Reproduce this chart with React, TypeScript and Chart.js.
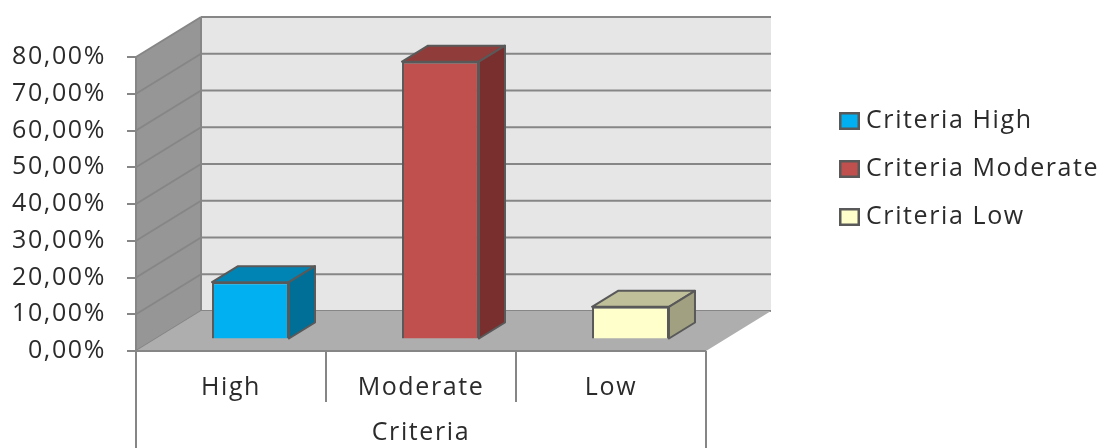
import React, { useEffect, useRef } from "react";
import { Chart, registerables } from "chart.js";

Chart.register(...registerables);

const categories = ["High", "Moderate", "Low"];
const seriesNames = ["Criteria High", "Criteria Moderate", "Criteria Low"];
const highValues = [15.6, null, null];
const moderateValues = [null, 75.6, null];
const lowValues = [null, null, 8.9];
const yTicks = [0, 10, 20, 30, 40, 50, 60, 70, 80];
const axisTitle = "Criteria";

const frontColors = ["#00b0f0", "#c0504d", "#ffffcc"];
const topColors = ["#0084b4", "#903c3a", "#bfbf99"];
const sideColors = ["#006f97", "#792f2e", "#a1a181"];

const FONT = "'Open Sans'";
const TEXT = "#2b2b2b";
const LINE = "#868686";
const EDGE = "#595959";
const DX = 65, DY = 40;
const BAR_DX = 19.5, BAR_DY = 11.5;
const EX = 26, EY = 16;

function swatch(color: string) {
  const c = document.createElement("canvas");
  c.width = 21;
  c.height = 18;
  const g = c.getContext("2d")!;
  g.fillStyle = color;
  g.strokeStyle = EDGE;
  g.lineWidth = 2.5;
  g.fillRect(1, 1, 19, 16);
  g.strokeRect(1.25, 1.25, 18.5, 15.5);
  return c;
}

function poly(ctx: CanvasRenderingContext2D, pts: number[][], fill: string, stroke?: string, lw = 2) {
  ctx.beginPath();
  pts.forEach((p, i) => (i ? ctx.lineTo(p[0], p[1]) : ctx.moveTo(p[0], p[1])));
  ctx.closePath();
  ctx.fillStyle = fill;
  ctx.fill();
  if (stroke) {
    ctx.strokeStyle = stroke;
    ctx.lineWidth = lw;
    ctx.lineJoin = "round";
    ctx.stroke();
  }
}

function line(ctx: CanvasRenderingContext2D, x1: number, y1: number, x2: number, y2: number) {
  ctx.beginPath();
  ctx.moveTo(x1, y1);
  ctx.lineTo(x2, y2);
  ctx.stroke();
}

const scene = {
  id: "scene3d",
  afterLayout(chart: any) {
    const l = chart.legend;
    if (!l) return;
    const w = l.width, h = l.height;
    l.left = 822.5;
    l.top = 85.5;
    l.right = 1099;
    l.bottom = 85.5 + h + 60;
  },
  beforeDraw(chart: any) {
    const { ctx, chartArea: a, scales } = chart;
    ctx.letterSpacing = "1.6px";
    const y = scales.y;
    const x = scales.x;
    ctx.save();
    poly(ctx, [[a.left, a.top], [a.left + DX, a.top - DY], [a.left + DX, a.bottom - DY], [a.left, a.bottom]], "#969696");
    poly(ctx, [[a.left + DX, a.top - DY], [a.right + DX, a.top - DY], [a.right + DX, a.bottom - DY], [a.left + DX, a.bottom - DY]], "#e6e6e6");
    ctx.strokeStyle = LINE;
    ctx.lineWidth = 2;
    yTicks.forEach((t) => {
      const py = y.getPixelForValue(t);
      line(ctx, a.left, py, a.left + DX, py - DY);
      line(ctx, a.left + DX, py - DY, a.right + DX, py - DY);
    });
    line(ctx, a.left + DX, a.top - DY, a.left + DX, a.bottom - DY);
    poly(ctx, [[a.left, a.bottom], [a.right, a.bottom], [a.right + DX, a.bottom - DY], [a.left + DX, a.bottom - DY]], "#aeaeae");
    ctx.strokeStyle = LINE;
    ctx.lineWidth = 2;
    line(ctx, a.left, a.bottom, a.right, a.bottom);
    line(ctx, a.left, a.top, a.left, 448);
    line(ctx, a.right, a.bottom, a.right, 448);
    const step = (x.getPixelForValue(1) - x.getPixelForValue(0)) / 2;
    [0, 1].forEach((i) => {
      const px = x.getPixelForValue(i) + step;
      line(ctx, px, a.bottom, px, 402);
    });
    ctx.restore();
  },
  beforeDatasetsDraw(chart: any) {
    const { ctx } = chart;
    ctx.save();
    ctx.translate(BAR_DX, BAR_DY * -1);
    chart.data.datasets.forEach((ds: any, i: number) => {
      chart.getDatasetMeta(i).data.forEach((bar: any, j: number) => {
        if (ds.data[j] == null) return;
        const r = bar.x + bar.width / 2, l = bar.x - bar.width / 2;
        poly(ctx, [[l, bar.y], [r, bar.y], [r + EX, bar.y - EY], [l + EX, bar.y - EY]], topColors[i], EDGE);
        poly(ctx, [[r, bar.y], [r + EX, bar.y - EY], [r + EX, bar.base - EY], [r, bar.base]], sideColors[i], EDGE);
      });
    });
  },
  afterDatasetsDraw(chart: any) {
    chart.ctx.restore();
  },
};

export default function App() {
  const ref = useRef<HTMLCanvasElement>(null);
  useEffect(() => {
    const series = [highValues, moderateValues, lowValues];
    const chart = new Chart(ref.current!, {
      type: "bar",
      data: {
        labels: categories,
        datasets: series.map((data, i) => ({
          label: seriesNames[i],
          data,
          backgroundColor: frontColors[i],
          borderColor: EDGE,
          borderWidth: 2,
          barPercentage: 0.405,
          categoryPercentage: 1,
        })),
      },
      options: {
        responsive: false,
        animation: false,
        layout: { padding: { left: 0, top: 57, right: 393, bottom: 0 } },
        scales: {
          x: {
            stacked: true,
            grid: { display: false },
            border: { display: false },
            ticks: { color: TEXT, font: { family: FONT, size: 25 }, padding: 14, maxRotation: 0 },
            title: { display: true, text: axisTitle, color: TEXT, font: { family: FONT, size: 25 }, padding: { top: 20, bottom: 0 } },
            afterFit: (s: any) => { s.height = 97; },
          },
          y: {
            stacked: false,
            min: 0,
            max: 80,
            afterBuildTicks: (s: any) => { s.ticks = yTicks.map((value) => ({ value })); },
            grid: { drawOnChartArea: false, tickLength: 9, color: LINE, lineWidth: 2 },
            border: { display: false },
            ticks: {
              color: TEXT,
              font: { family: FONT, size: 25 },
              padding: 21,
              callback: (v: any) => Number(v).toFixed(2).replace(".", ",") + "%",
            },
            afterFit: (s: any) => { s.width = 136; },
          },
        },
        plugins: {
          tooltip: { enabled: false },
          legend: {
            position: "chartArea",
            align: "start",
            labels: {
              color: TEXT,
              font: { family: FONT, size: 25 },
              usePointStyle: true,
              pointStyleWidth: 8,
              boxHeight: 16,
              padding: 23,
              generateLabels: (c: any) =>
                Chart.defaults.plugins.legend.labels.generateLabels(c).map((item: any, i: number) => ({
                  ...item,
                  pointStyle: swatch(frontColors[i]),
                })),
            },
          },
        },
      } as any,
      plugins: [scene],
    });
    return () => chart.destroy();
  }, []);
  return (
    <div style={{ position: "fixed", left: 0, top: 0, width: 1099, height: 448, background: "#fff" }}>
      <canvas ref={ref} width={1099} height={448} style={{ display: "block" }} />
    </div>
  );
}
